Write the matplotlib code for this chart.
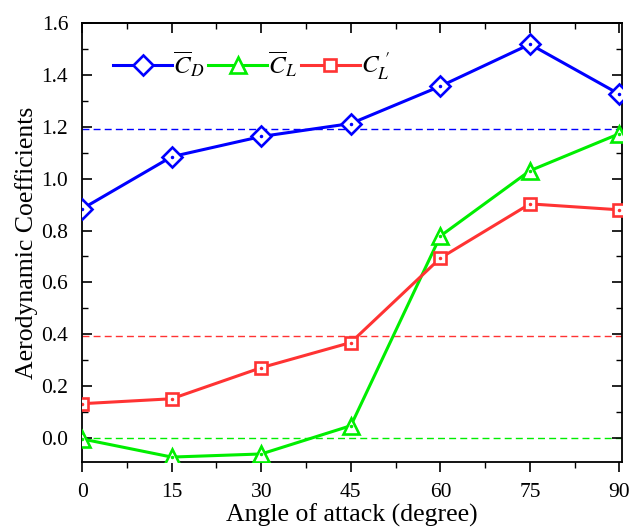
import matplotlib
matplotlib.use("Agg")
import matplotlib.pyplot as plt
from matplotlib.ticker import MultipleLocator

plt.rcParams['font.family'] = ['Liberation Serif', 'DejaVu Serif']
plt.rcParams['mathtext.fontset'] = 'stix'

angles = [0, 15, 30, 45, 60, 75, 90]
cd = [0.884, 1.085, 1.163, 1.213, 1.357, 1.519, 1.326]
cl = [-0.004, -0.074, -0.062, 0.047, 0.779, 1.031, 1.174]
cl_rms = [0.132, 0.151, 0.271, 0.368, 0.694, 0.903, 0.880]
mean_cd = 1.19
mean_cl = 0.0
mean_cl_rms = 0.395

labels = [r'$\overline{C}_D$', r'$\overline{C}_L$', r"$C_L^{\ \prime}$"]
colors = ['#0000ff', '#00ee00', '#ff3333']
markers = ['D', '^', 's']
msizes = [10, 11.5, 8.5]

fig = plt.figure(figsize=(6.32, 5.28), dpi=100)
ax = fig.add_axes([0.130, 0.125, 0.854, 0.831])

series = [cd, cl, cl_rms]
means = [mean_cd, mean_cl, mean_cl_rms]
for y, m, c, mk, ms, lab in zip(series, means, colors, markers, msizes, labels):
    ax.axhline(m, color=c, lw=1.0, ls=(0, (5, 3)), zorder=1)
    ax.plot(angles, y, color=c, lw=2.2, marker=mk, ms=ms,
            mfc='white', mec=c, mew=1.9, label=lab, zorder=3)
    ax.plot(angles, y, ls='none', marker='.', ms=3, color=c, zorder=4)

ax.set_xlim(0, 90.4)
ax.set_ylim(-0.093, 1.6)
ax.xaxis.set_major_locator(MultipleLocator(15))
ax.xaxis.set_minor_locator(MultipleLocator(7.5))
ax.yaxis.set_major_locator(MultipleLocator(0.2))
ax.yaxis.set_minor_locator(MultipleLocator(0.1))
ax.yaxis.set_major_formatter(plt.FuncFormatter(lambda v, p: f'{v:.1f}'))

ax.tick_params(axis='y', which='both', direction='in', left=True, right=True, labelsize=15.5, pad=10)
ax.tick_params(axis='x', which='both', direction='out', bottom=True, labelsize=15.5, pad=8)
ax.tick_params(which='major', length=7, width=1.2)
ax.tick_params(which='minor', length=4, width=1.0)
secx = ax.secondary_xaxis('top')
secx.xaxis.set_major_locator(MultipleLocator(15))
secx.xaxis.set_minor_locator(MultipleLocator(7.5))
secx.tick_params(which='both', direction='in', labeltop=False)
secx.tick_params(which='major', length=7, width=1.2)
secx.tick_params(which='minor', length=4, width=1.0)
secx.spines['top'].set_linewidth(1.3)

for s in ax.spines.values():
    s.set_linewidth(1.3)

ax.set_xlabel('Angle of attack (degree)', fontsize=18.5, labelpad=1)
ax.set_ylabel('Aerodynamic Coefficients', fontsize=18.5, labelpad=2)

handles, labs = ax.get_legend_handles_labels()
leg = ax.legend(handles, labs, loc='upper left', ncol=3, frameon=False,
                fontsize=18, bbox_to_anchor=(0.03, 0.975), handlelength=2.35,
                columnspacing=0.15, handletextpad=0.05, borderaxespad=0.2)

fig.savefig('out.png', dpi=100)
